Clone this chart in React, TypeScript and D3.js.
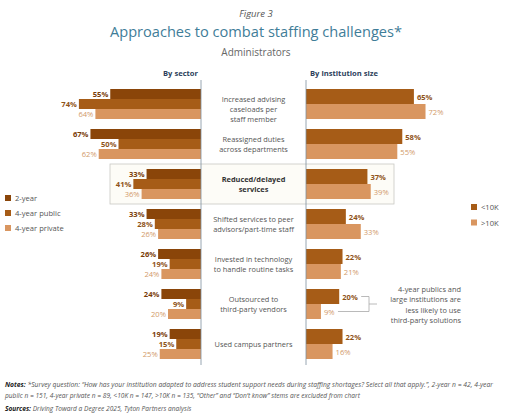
import { scaleLinear, scaleBand } from 'd3'

// Figure 3: mirrored grouped bars, sector on the left, size on the right,
// category labels in the middle column.
const CATEGORIES = [
  ['Increased advising', 'caseloads per', 'staff member'],
  ['Reassigned duties', 'across departments'],
  ['Reduced/delayed', 'services'],
  ['Shifted services to peer', 'advisors/part-time staff'],
  ['Invested in technology', 'to handle routine tasks'],
  ['Outsourced to', 'third-party vendors'],
  ['Used campus partners'],
]
const SECTORS = ['2-year', '4-year public', '4-year private']
const TWO_YEAR = [55, 67, 33, 33, 26, 24, 19]
const FOUR_PUBLIC = [74, 50, 41, 28, 19, 9, 15]
const FOUR_PRIVATE = [64, 62, 36, 26, 24, 20, 25]
const SIZES = ['<10K', '>10K']
const UNDER_10K = [65, 58, 37, 24, 22, 20, 22]
const OVER_10K = [72, 55, 39, 33, 21, 9, 16]
const HIGHLIGHT = 2
const NOTE_LINES = [
  'public n = 151, 4-year private n = 89, <10K n = 147, >10K n = 135, \u201cOther\u201d and \u201cDon\u2019t know\u201d stems are excluded from chart',
]
const ANNOTATION = ['4-year publics and', 'large institutions are', 'less likely to use', 'third-party solutions']

const BAR = ['#8a4509', '#a65c17', '#d99660']
const LABEL = ['#7a3d08', '#8f5419', '#d29a6a']
const RBAR = ['#a65c17', '#d99660']
const RLABEL = ['#8f5419', '#d29a6a']
const FONT = '"Open Sans", "Noto Sans", sans-serif'

export default function App() {
  const leftVals = [TWO_YEAR, FOUR_PUBLIC, FOUR_PRIVATE]
  const rightVals = [UNDER_10K, OVER_10K]
  const ids = CATEGORIES.map((_, i) => String(i))
  const y = scaleBand().domain(ids).range([89, 359]).paddingInner(0.25).paddingOuter(0)
  const bw = y.bandwidth()
  const yL = scaleBand().domain(SECTORS).range([0, bw])
  const yR = scaleBand().domain(SIZES).range([0, bw])
  const axL = 201
  const axR = 306
  const xL = scaleLinear().domain([0, 100]).range([axL, axL - 165])
  const xR = scaleLinear().domain([0, 100]).range([axR, axR + 166])
  const mid = (axL + axR) / 2
  const hy = (y(String(HIGHLIGHT)) ?? 0) - 5

  const oy = (y('5') ?? 0)
  const topY = oy + (yR('<10K') ?? 0) + yR.bandwidth() / 2
  const botY = oy + (yR('>10K') ?? 0) + yR.bandwidth() / 2
  const brX = 369

  return (
    <svg width={512} height={414} viewBox="0 0 512 414" style={{ position: 'absolute', left: 0, top: 0, fontFamily: FONT }}>
      <rect width={512} height={414} fill="#fff" />
      <text x={256} y={17} textAnchor="middle" fontSize={9.5} fontStyle="italic" fill="#555">Figure 3</text>
      <text x={256} y={37} textAnchor="middle" fontSize={14.6} fill="#3f7d98">Approaches to combat staffing challenges*</text>
      <text x={256} y={56} textAnchor="middle" fontSize={10} fill="#666">Administrators</text>
      <text x={198} y={76} textAnchor="end" fontSize={7.6} fontWeight="bold" fill="#2d3f5c">By sector</text>
      <text x={310} y={76} fontSize={7.6} fontWeight="bold" fill="#2d3f5c">By institution size</text>

      <rect x={110} y={hy} width={284} height={bw + 10} fill="#fdfcf7" stroke="#c9c9c4" strokeWidth={0.8} />

      {CATEGORIES.map((lines, i) => {
        const gy = y(String(i)) ?? 0
        const cy = gy + bw / 2 + (lines.length === 3 ? 5 : 0)
        return (
          <g key={i}>
            {leftVals.map((vals, s) => {
              const by = gy + (yL(SECTORS[s]) ?? 0)
              return (
                <g key={s}>
                  <rect x={xL(vals[i])} y={by} width={axL - xL(vals[i])} height={yL.bandwidth()} fill={BAR[s]} />
                  <text x={xL(vals[i]) - 2} y={by + yL.bandwidth() / 2 + 3} textAnchor="end" fontSize={7.6} fontWeight={s < 2 ? 'bold' : 'normal'} fill={LABEL[s]}>{vals[i]}%</text>
                </g>
              )
            })}
            {rightVals.map((vals, s) => {
              const by = gy + (yR(SIZES[s]) ?? 0)
              return (
                <g key={s}>
                  <rect x={axR} y={by} width={xR(vals[i]) - axR} height={yR.bandwidth()} fill={RBAR[s]} />
                  <text x={xR(vals[i]) + 3} y={by + yR.bandwidth() / 2 + 3} fontSize={7.6} fontWeight={s === 0 ? 'bold' : 'normal'} fill={RLABEL[s]}>{vals[i]}%</text>
                </g>
              )
            })}
            {lines.map((t, k) => (
              <text key={k} x={mid} y={cy + (k - (lines.length - 1) / 2) * 10.3 + 2.8} textAnchor="middle" fontSize={7.4} fontWeight={i === HIGHLIGHT ? 'bold' : 'normal'} fill={i === HIGHLIGHT ? '#333' : '#555'}>{t}</text>
            ))}
          </g>
        )
      })}

      <line x1={axL} x2={axL} y1={80} y2={365} stroke="#7f8fa0" strokeWidth={0.8} />
      <line x1={axR} x2={axR} y1={80} y2={365} stroke="#7f8fa0" strokeWidth={0.8} />

      {SECTORS.map((s, k) => (
        <g key={s}>
          <rect x={5} y={195 + k * 15} width={6} height={6} fill={BAR[k]} />
          <text x={15} y={201 + k * 15} fontSize={7.6} fill="#555">{s}</text>
        </g>
      ))}
      {SIZES.map((s, k) => (
        <g key={s}>
          <rect x={471} y={204 + k * 15.5} width={6} height={6} fill={RBAR[k]} />
          <text x={481} y={210 + k * 15.5} fontSize={7.6} fill="#555">{s}</text>
        </g>
      ))}

      <g stroke="#a8a8a8" strokeWidth={0.8} fill="none">
        <line x1={xR(UNDER_10K[5]) + 22} x2={brX} y1={topY} y2={topY} />
        <line x1={xR(OVER_10K[5]) + 17} x2={brX} y1={botY} y2={botY} />
        <line x1={brX} x2={brX} y1={topY} y2={botY} />
        <line x1={brX} x2={377} y1={(topY + botY) / 2} y2={(topY + botY) / 2} />
      </g>
      {ANNOTATION.map((t, k) => (
        <text key={k} x={461} y={292 + k * 10.3} textAnchor="end" fontSize={7.4} fill="#555">{t}</text>
      ))}

      <text x={5} y={387} fontSize={6.6} fontStyle="italic" fill="#555" textLength={488} lengthAdjust="spacingAndGlyphs">
        <tspan fontWeight="bold" fill="#222">Notes: </tspan>
        *Survey question: “How has your institution adapted to address student support needs during staffing shortages? Select all that apply.”, 2-year n = 42, 4-year
      </text>
      {NOTE_LINES.map((t, k) => (
        <text key={k} x={5} y={398 + k * 10} fontSize={6.6} fontStyle="italic" fill="#555">{t}</text>
      ))}
      <text x={5} y={411} fontSize={6.6} fontStyle="italic" fill="#555">
        <tspan fontWeight="bold" fill="#222">Sources: </tspan>
        Driving Toward a Degree 2025, Tyton Partners analysis
      </text>
    </svg>
  )
}
